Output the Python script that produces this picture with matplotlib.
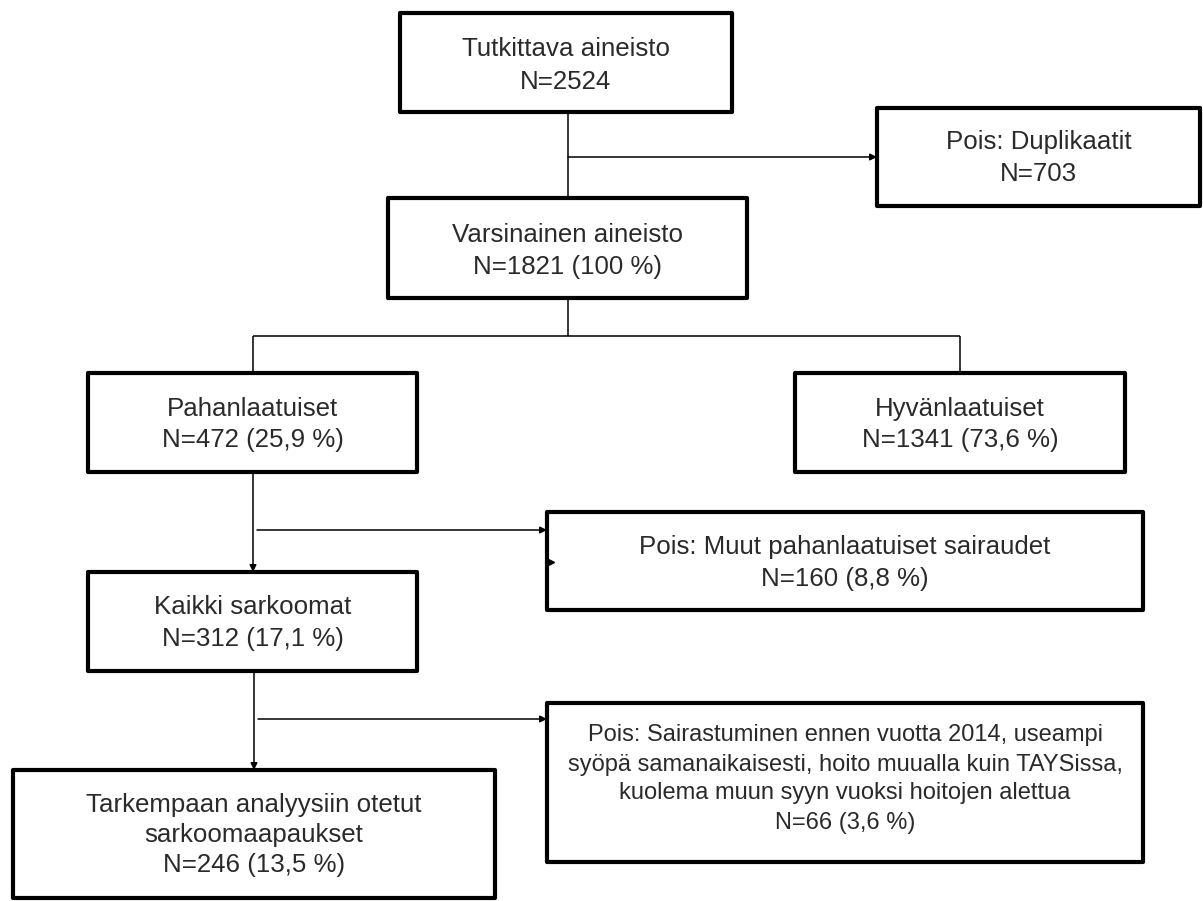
import matplotlib
matplotlib.use("Agg")
import matplotlib.pyplot as plt
from matplotlib.patches import Rectangle

# ---------------- data ----------------
box_titles = [
    "Tutkittava aineisto",
    "Pois: Duplikaatit",
    "Varsinainen aineisto",
    "Pahanlaatuiset",
    "Hyvänlaatuiset",
    "Pois: Muut pahanlaatuiset sairaudet",
    "Kaikki sarkoomat",
    "Pois: Sairastuminen ennen vuotta 2014, useampi\nsyöpä samanaikaisesti, hoito muualla kuin TAYSissa,\nkuolema muun syyn vuoksi hoitojen alettua",
    "Tarkempaan analyysiin otetut\nsarkoomaapaukset",
]
box_counts = [2524, 703, 1821, 472, 1341, 160, 312, 66, 246]
box_percents = [None, None, "100", "25,9", "73,6", "8,8", "17,1", "3,6", "13,5"]

# ---------------- layout (pixels, y downward) ----------------
W, H = 1203, 901
box_geom = [
    (400, 13, 732, 112),
    (877, 108, 1200, 206),
    (388, 198, 747, 298),
    (88, 373, 417, 472),
    (795, 373, 1125, 472),
    (547, 512, 1143, 610),
    (88, 572, 417, 671),
    (547, 703, 1143, 862),
    (13, 770, 495, 898),
]
text_first_y = [47, 140, 233, 407, 407, 545, 605, 733, 803]
text_step = [33, 32, 32, 31, 31, 32, 32, 29, 30]
text_size = [18.6, 18.6, 18.6, 18.6, 18.6, 18.6, 18.6, 17.0, 18.6]

plain_lines = [
    ((568, 112), (568, 198)),
    ((568, 298), (568, 336)),
    ((253, 336), (960, 336)),
    ((253, 336), (253, 373)),
    ((960, 336), (960, 373)),
]
arrow_lines = [
    ((568, 157), (877, 157)),
    ((253, 472), (253, 572)),
    ((257, 530), (547, 530)),
    ((254, 671), (254, 770)),
    ((258, 719), (547, 719)),
]

plt.rcParams["font.family"] = ["Liberation Sans", "DejaVu Sans"]
fig = plt.figure(figsize=(W / 100, H / 100), dpi=100)
ax = fig.add_axes([0, 0, 1, 1])
ax.set_xlim(0, W)
ax.set_ylim(H, 0)
ax.axis("off")

text_color = "#2a2a2a"

for (x0, y0, x1, y1), title, n, pct, fy, st, fs in zip(
        box_geom, box_titles, box_counts, box_percents, text_first_y, text_step, text_size):
    r = Rectangle((x0, y0), x1 - x0, y1 - y0, facecolor="white", edgecolor="black",
                  lw=3.0, joinstyle="round", zorder=2)
    ax.add_patch(r)
    lines = title.split("\n")
    lines.append(f"N={n}" + (f" ({pct} %)" if pct is not None else ""))
    cx = (x0 + x1) / 2
    em = fs * 100 / 72
    for i, line in enumerate(lines):
        ax.text(cx, fy + i * st + 0.36 * em, line, ha="center", va="baseline",
                fontsize=fs, color=text_color, zorder=3)

for (a, b) in plain_lines:
    ax.plot([a[0], b[0]], [a[1], b[1]], color="black", lw=1.1, zorder=1,
            solid_capstyle="butt")

for (a, b) in arrow_lines:
    ax.annotate("", xy=b, xytext=a,
                arrowprops=dict(arrowstyle="-|>", color="black", lw=1.1,
                                mutation_scale=10, shrinkA=0, shrinkB=0),
                zorder=1)

# small stray arrowhead on the left edge of the "Muut" box
ax.plot([551], [562], marker=">", color="black", markersize=5, zorder=4)

fig.savefig("out.png", dpi=100, facecolor="white")
